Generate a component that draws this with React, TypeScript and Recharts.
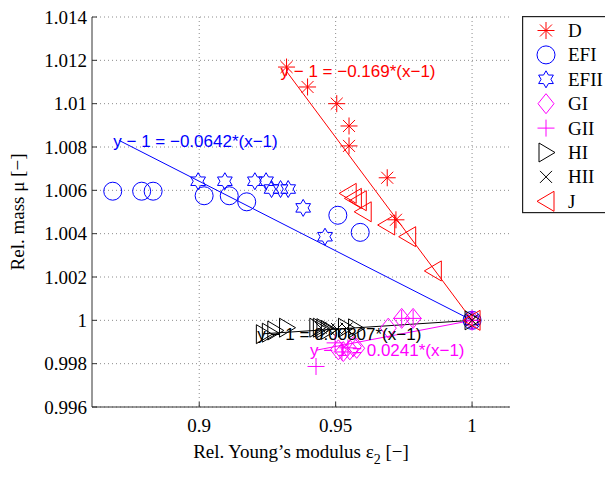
import {
  ScatterChart,
  Scatter,
  XAxis,
  YAxis,
  CartesianGrid,
  ReferenceLine,
  ReferenceDot,
  Label,
} from "recharts";

// axis ticks
const xTicks = [0.9, 0.95, 1];
const yTicks = [0.996, 0.998, 1, 1.002, 1.004, 1.006, 1.008, 1.01, 1.012, 1.014];

// measured series (rel. Young's modulus vs rel. mass)
const dX = [0.932, 0.9397, 0.9504, 0.9549, 0.9549, 0.9689, 0.9721, 1];
const dY = [1.01169, 1.01077, 1.01, 1.00897, 1.00805, 1.00658, 1.00464, 1];

const efiX = [0.8683, 0.8789, 0.8831, 0.9018, 0.911, 0.9174, 0.9508, 0.959, 1];
const efiY = [1.00596, 1.00596, 1.00596, 1.00575, 1.00575, 1.00547, 1.00485, 1.00406, 1];

const efiiX = [0.8996, 0.9094, 0.9204, 0.9245, 0.9265, 0.9298, 0.9326, 0.9381, 0.9461, 1];
const efiiY = [1.00642, 1.00642, 1.00642, 1.00642, 1.00606, 1.00606, 1.00606, 1.00519, 1.00386, 1];

const giX = [0.951, 0.9528, 0.9552, 0.9565, 0.9577, 0.9693, 0.9742, 0.9784, 1];
const giY = [0.99864, 0.99856, 0.99864, 0.99879, 0.99871, 0.99964, 1.00009, 1.00009, 1];

const giiX = [0.9428, 0.9498, 0.9523, 0.9545, 0.9742, 0.9784, 1];
const giiY = [0.99787, 0.99896, 0.99854, 0.99873, 1.00009, 1.00009, 1];

const hiX = [0.9235, 0.9257, 0.9277, 0.932, 0.9431, 0.9444, 0.9457, 0.9473, 0.9536, 0.9573, 1];
const hiY = [0.99936, 0.99943, 0.99953, 0.99966, 0.99966, 0.99966, 0.99964, 0.99956, 0.99966, 0.99963, 1];

const hiiX = [0.9445, 0.9475, 0.9505, 0.954, 1];
const hiiY = [0.99966, 0.99958, 0.9996, 0.99962, 1];

const jX = [0.9546, 0.9565, 0.9583, 0.9601, 0.9687, 0.9764, 0.9858, 1];
const jY = [1.00586, 1.00563, 1.00552, 1.00501, 1.0044, 1.00386, 1.00228, 1];

// fitted lines through (1,1): start point and label
const fitStartX = [0.8707, 0.932, 0.9235, 0.9428];
const fitStartY = [1.0083, 1.01149, 0.99938, 0.99862];
const fitColors = ["#0000ff", "#ff0000", "#000000", "#ff00ff"];
const fitLabels = [
  "y − 1 = −0.0642*(x−1)",
  "y − 1 = −0.169*(x−1)",
  "y − 1 = 0.00807*(x−1)",
  "y − 1 = 0.0241*(x−1)",
];

const names = ["D", "EFI", "EFII", "GI", "GII", "HI", "HII", "J"];
const colors = ["#ff0000", "#0000ff", "#0000ff", "#ff00ff", "#ff00ff", "#000000", "#000000", "#ff0000"];
const kinds = ["asterisk", "circle", "hexagram", "diamond", "plus", "triRight", "cross", "triLeft"];
const xs = [dX, efiX, efiiX, giX, giiX, hiX, hiiX, jX];
const ys = [dY, efiY, efiiY, giY, giiY, hiY, hiiY, jY];

const zip = (a: number[], b: number[]) => a.map((x, i) => ({ x, y: b[i] }));

const SERIF = "'Liberation Serif', 'Times New Roman', serif";
const SANS = "'Liberation Sans', Arial, sans-serif";

function marker(kind: string, cx: number, cy: number, color: string) {
  const p = { stroke: color, strokeWidth: 1, fill: "none" };
  switch (kind) {
    case "asterisk": {
      const r = 8.5;
      const d = r * 0.707;
      return (
        <g {...p}>
          <line x1={cx - r} y1={cy} x2={cx + r} y2={cy} />
          <line x1={cx} y1={cy - r} x2={cx} y2={cy + r} />
          <line x1={cx - d} y1={cy - d} x2={cx + d} y2={cy + d} />
          <line x1={cx - d} y1={cy + d} x2={cx + d} y2={cy - d} />
        </g>
      );
    }
    case "circle":
      return <circle cx={cx} cy={cy} r={9} {...p} />;
    case "hexagram": {
      const R = 8.5;
      const r = R / Math.sqrt(3);
      const pts: string[] = [];
      for (let i = 0; i < 12; i++) {
        const a = -Math.PI / 2 + (i * Math.PI) / 6;
        const rr = i % 2 === 0 ? R : r;
        pts.push(`${cx + rr * Math.cos(a)},${cy + rr * Math.sin(a)}`);
      }
      return <polygon points={pts.join(" ")} {...p} />;
    }
    case "diamond":
      return <polygon points={`${cx},${cy - 10} ${cx + 8},${cy} ${cx},${cy + 10} ${cx - 8},${cy}`} {...p} />;
    case "plus":
      return (
        <g {...p}>
          <line x1={cx - 8.5} y1={cy} x2={cx + 8.5} y2={cy} />
          <line x1={cx} y1={cy - 8.5} x2={cx} y2={cy + 8.5} />
        </g>
      );
    case "cross":
      return (
        <g {...p}>
          <line x1={cx - 6} y1={cy - 6} x2={cx + 6} y2={cy + 6} />
          <line x1={cx - 6} y1={cy + 6} x2={cx + 6} y2={cy - 6} />
        </g>
      );
    case "triRight":
      return <polygon points={`${cx - 7},${cy - 9.5} ${cx + 9},${cy} ${cx - 7},${cy + 9.5}`} {...p} />;
    case "triLeft":
      return <polygon points={`${cx + 8},${cy - 10} ${cx - 9},${cy} ${cx + 8},${cy + 10}`} {...p} />;
  }
  return null;
}

const fmt = (v: number) => String(Number(v.toFixed(3)));

const XTick = ({ x, y, payload }: any) => (
  <g>
    <line x1={x} y1={y} x2={x} y2={y - 5} stroke="#333" />
    <text x={x} y={y + 25} textAnchor="middle" fontFamily={SERIF} fontSize={19} fill="#000">
      {fmt(payload.value)}
    </text>
  </g>
);

const YTick = ({ x, y, payload }: any) => (
  <g>
    <line x1={x} y1={y} x2={x + 5} y2={y} stroke="#333" />
    <text x={x - 5} y={y + 6.5} textAnchor="end" fontFamily={SERIF} fontSize={19} fill="#000">
      {fmt(payload.value)}
    </text>
  </g>
);

const LegendBox = () => (
  <svg
    width={83}
    height={198}
    style={{ position: "absolute", left: 522, top: 16, display: "block" }}
  >
    <rect x={0.6} y={0.6} width={110} height={196} fill="#fff" stroke="#222" strokeWidth={1.2} />
    {names.map((n, i) => (
      <g key={n}>
        {marker(kinds[i], 24, 14.5 + i * 24.4, colors[i])}
        <text x={46} y={14.5 + i * 24.4 + 6.5} fontFamily={SERIF} fontSize={19} fill="#000">
          {n}
        </text>
      </g>
    ))}
  </svg>
);

export default function App() {
  return (
    <div
      style={{
        position: "absolute",
        left: 0,
        top: 0,
        width: 605,
        height: 484,
        overflow: "hidden",
        background: "#fff",
      }}
    >
      <ScatterChart width={605} height={484} margin={{ top: 17, right: 95, bottom: 0, left: 0 }}>
        <CartesianGrid
          stroke="#8c8c8c"
          strokeDasharray="1 3"
          verticalValues={xTicks}
          horizontalValues={yTicks}
        />
        <XAxis
          type="number"
          dataKey="x"
          domain={[0.8607, 1.0139]}
          ticks={xTicks}
          interval={0}
          allowDataOverflow
          height={77}
          tickSize={0}
          tickMargin={0}
          tickLine={false}
          tick={XTick}
          axisLine={{ stroke: "#333" }}
        >
          <Label
            content={({ viewBox }: any) => (
              <text
                x={viewBox.x + viewBox.width / 2}
                y={viewBox.y + 51}
                textAnchor="middle"
                fontFamily={SERIF}
                fontSize={19}
                fill="#000"
              >
                Rel. Young’s modulus ε
                <tspan dy={6} fontSize={14}>2</tspan>
                <tspan dy={-6}> [−]</tspan>
              </text>
            )}
          />
        </XAxis>
        <YAxis
          type="number"
          dataKey="y"
          domain={[0.996, 1.014]}
          ticks={yTicks}
          interval={0}
          allowDataOverflow
          width={92}
          tickSize={0}
          tickMargin={0}
          tickLine={false}
          tick={YTick}
          axisLine={{ stroke: "#333" }}
        >
          <Label
            content={({ viewBox }: any) => {
              const cx = 24;
              const cy = viewBox.y + viewBox.height / 2;
              return (
                <text
                  x={cx}
                  y={cy}
                  textAnchor="middle"
                  transform={`rotate(-90 ${cx} ${cy})`}
                  fontFamily={SERIF}
                  fontSize={19}
                  fill="#000"
                >
                  Rel. mass μ [−]
                </text>
              );
            }}
          />
        </YAxis>
        {names.map((n, i) => (
          <Scatter
            key={n}
            name={n}
            data={zip(xs[i], ys[i])}
            isAnimationActive={false}
            shape={(p: any) => marker(kinds[i], p.cx, p.cy, colors[i])}
          />
        ))}
        {fitLabels.map((t, i) => (
          <ReferenceLine
            key={"l" + i}
            segment={[
              { x: fitStartX[i], y: fitStartY[i] },
              { x: 1, y: 1 },
            ]}
            stroke={fitColors[i]}
            strokeWidth={1}
            ifOverflow="visible"
          />
        ))}
        {fitLabels.map((t, i) => (
          <ReferenceDot
            key={"t" + i}
            x={fitStartX[i]}
            y={fitStartY[i]}
            r={0}
            ifOverflow="visible"
            shape={(p: any) => (
              <text x={p.cx - 6} y={p.cy + 6} fontFamily={SANS} fontSize={17} fill={fitColors[i]}>
                {t}
              </text>
            )}
          />
        ))}
      </ScatterChart>
      <LegendBox />
    </div>
  );
}
